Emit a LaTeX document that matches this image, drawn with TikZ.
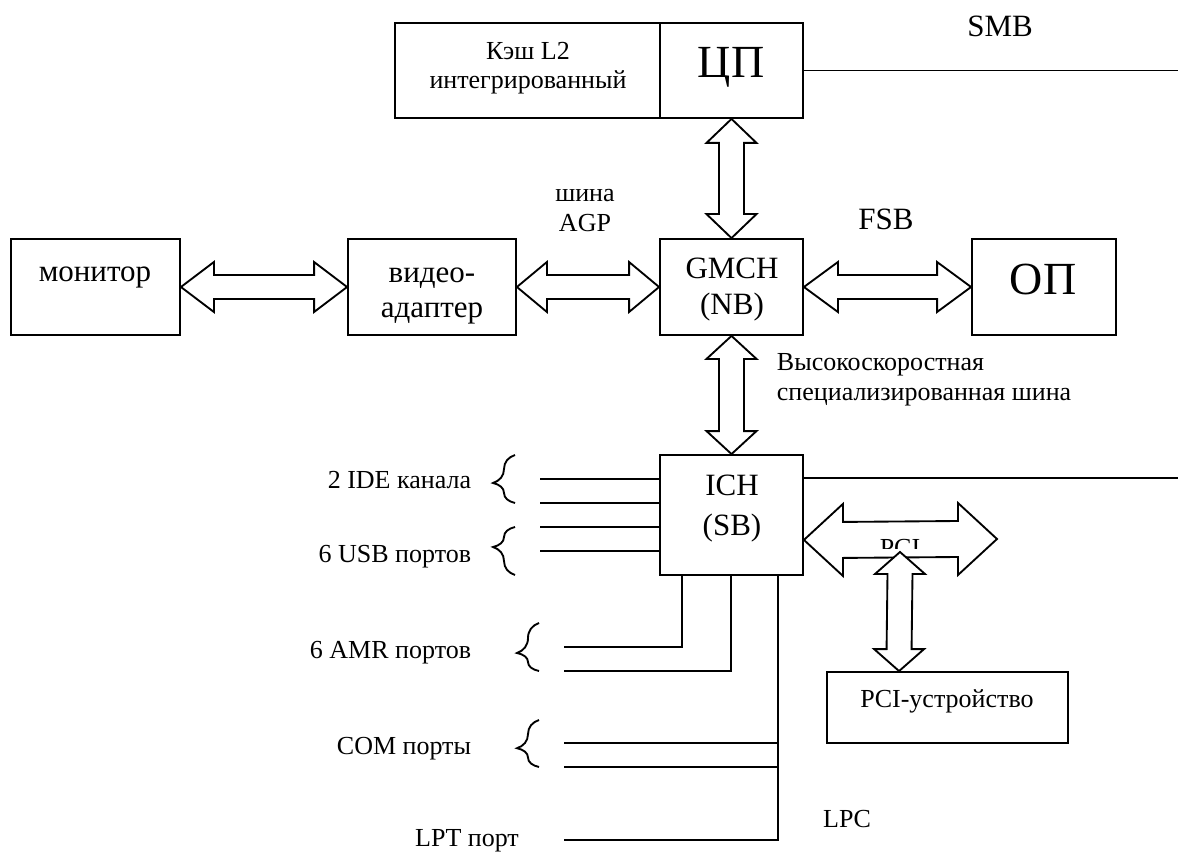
\documentclass[tikz,border=0pt]{standalone}
\usepackage{fontspec}
\setmainfont{Liberation Serif}
\usetikzlibrary{calc,fit,decorations.pathreplacing}
\newcommand\dblH[5]{%
  \draw[arr] (#1) -- ($(#1)+(#3,-#5)$) -- ($(#1)+(#3,-#4)$) -- ($(#2)+(-#3,-#4)$) -- ($(#2)+(-#3,-#5)$) -- (#2)
   -- ($(#2)+(-#3,#5)$) -- ($(#2)+(-#3,#4)$) -- ($(#1)+(#3,#4)$) -- ($(#1)+(#3,#5)$) -- cycle;}
\newcommand\dblV[5]{%
  \draw[arr] (#1) -- ($(#1)+(#5,#3)$) -- ($(#1)+(#4,#3)$) -- ($(#2)+(#4,-#3)$) -- ($(#2)+(#5,-#3)$) -- (#2)
   -- ($(#2)+(-#5,-#3)$) -- ($(#2)+(-#4,-#3)$) -- ($(#1)+(-#4,#3)$) -- ($(#1)+(-#5,#3)$) -- cycle;}
\begin{document}
\begin{tikzpicture}[x=0.75pt,y=-0.75pt,line width=1.4pt,
  box/.style={draw,inner sep=0pt,line width=1.4pt},
  arr/.style={draw,fill=white,line width=1.4pt,line join=miter},
  lS/.style={inner sep=0pt,anchor=base,font=\fontsize{19.5}{22}\selectfont},
  lM/.style={inner sep=0pt,anchor=base,font=\fontsize{23.25}{26}\selectfont},
  lB/.style={inner sep=0pt,anchor=base,font=\fontsize{34.5}{38}\selectfont},
  brc/.style={decorate,decoration={brace,amplitude=16.5pt,aspect=#1},line width=1.4pt}]
\fill[white] (0,0) rectangle (1178,852);
\useasboundingbox (0,0) rectangle (1178,852);
% boxes
\node[box,fit={(395,23) (660,118)}] (cache) {};
\node[box,fit={(660,23) (803,118)}] (cpu) {};
\node[box,fit={(11,239) (180,335)}] (mon) {};
\node[box,fit={(348,239) (516,335)}] (vid) {};
\node[box,fit={(660,239) (803,335)}] (gmch) {};
\node[box,fit={(972,239) (1116,335)}] (op) {};
\node[box,fit={(660,455) (803,575)}] (ich) {};
\node[box,fit={(827,672) (1068,743)}] (pcid) {};
% texts
\node[lS] (tcache1) at (528,60) {Кэш L2};
\node[lS] (tcache2) at (528,89) {интегрированный};
\node[lB] (tcpu) at (731,78) {ЦП};
\node[lM] (tsmb) at (1000,37) {SMB};
\node[lM] (tmon) at (95,282) {монитор};
\node[lM] (tvid1) at (432,283) {видео-};
\node[lM] (tvid2) at (432,317) {адаптер};
\node[lS] (tagp1) at (585,202) {шина};
\node[lS] (tagp2) at (585,232) {AGP};
\node[lM] (tgmch1) at (732,279) {GMCH};
\node[lM] (tgmch2) at (732,315) {(NB)};
\node[lM] (tfsb) at (886,230) {FSB};
\node[lB] (top) at (1043,295) {ОП};
\node[lS,anchor=base west] (ths1) at (776,370) {Высокоскоростная};
\node[lS,anchor=base west] (ths2) at (776,400) {специализированная шина};
\node[lM] (tich1) at (732,495) {ICH};
\node[lM] (tich2) at (732,535) {(SB)};
\node[lS] (tpcid) at (947,707) {PCI-устройство};
\node[lS] (tlpc) at (847,827) {LPC};
\node[lS,anchor=base east] (tide) at (472,488) {2 IDE канала};
\node[lS,anchor=base east] (tusb) at (472,562) {6 USB портов};
\node[lS,anchor=base east] (tamr) at (472,658) {6 AMR портов};
\node[lS,anchor=base east] (tcom) at (472,754) {COM порты};
\node[lS] (tlpt) at (467,846) {LPT порт};
% SMB line and ICH right line
\coordinate (smbend) at ($(cpu.east)+(375,0)$);
\draw (cpu.east) -- (smbend);
\coordinate (ichR) at ($(ich.north east)+(0,24)$);
\draw (ichR) -- ($(ichR)+(375,0)$);
% double arrows
\dblH{mon.east}{vid.west}{33}{12}{25}
\dblH{vid.east}{gmch.west}{30}{12}{25}
\dblH{gmch.east}{op.west}{34}{12}{25}
\dblV{cpu.south}{gmch.north}{24}{12.5}{25}
\dblV{gmch.south}{ich.north}{23}{12.5}{25}
\coordinate (pciL) at ($(ich.south east)+(0,-36)$);
\coordinate (pciR) at (997,539);
\dblH{pciL}{pciR}{39}{18}{36}
\begin{scope}
  \clip (850,530) rectangle (950,548);
  \node[lS] (tpci) at (900,556) {PCI};
\end{scope}
\coordinate (pciT) at (900,552);
\coordinate (pciB) at ($(pcid.north west)+(73,0)$);
\dblV{pciT}{pciB}{22}{12.5}{25}
% left lines
\foreach \y/\n in {479/ide1,503/ide2,527/usb1,551/usb2}{
  \coordinate (\n) at (540,\y);
  \draw (\n) -- (\n -| ich.west);
}
\coordinate (amr1) at (564,647);
\coordinate (amr2) at (564,671);
\draw ($(ich.south west)+(23,0)$) |- (amr1);
\draw ($(ich.south west)+(72,0)$) |- (amr2);
\coordinate (lpcx) at ($(ich.south west)+(119,0)$);
\coordinate (lpt) at (564,840);
\draw (lpcx) |- (lpt);
\coordinate (com1) at (564,743);
\coordinate (com2) at (564,767);
\draw (com1) -- (com1 -| lpcx);
\draw (com2) -- (com2 -| lpcx);
% braces
\draw[brc=0.417] (515,503) -- (515,455);
\draw[brc=0.583] (515,575) -- (515,527);
\draw[brc=0.375] (539,671) -- (539,623);
\draw[brc=0.40] (539,767) -- (539,720);
\end{tikzpicture}
\end{document}
